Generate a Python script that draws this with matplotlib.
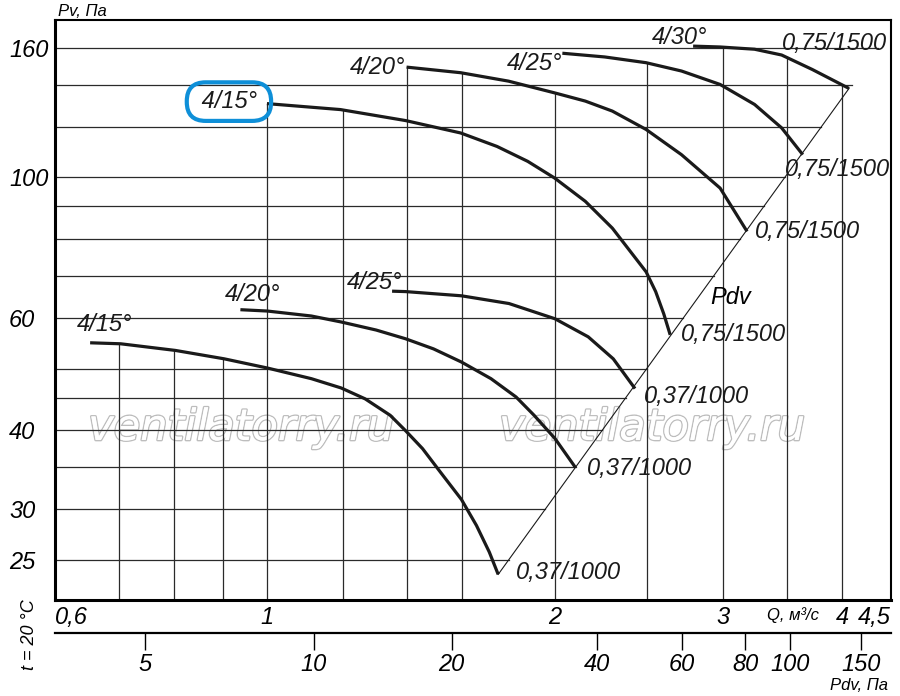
import numpy as np
import matplotlib
matplotlib.use('Agg')
import matplotlib.pyplot as plt
import matplotlib.patheffects as pe
from matplotlib.ticker import NullLocator
from matplotlib.transforms import blended_transform_factory

plt.rcParams['font.family'] = ['Liberation Sans', 'DejaVu Sans']
plt.rcParams['font.style'] = 'italic'

# axes ticks / grid
q_ticks = [0.6, 1, 2, 3, 4, 4.5]
q_tick_labels = ['0,6', '1', '2', '3', '4', '4,5']
q_grid = [0.7, 0.8, 0.9, 1.0, 1.2, 1.4, 1.6, 2.0, 2.5, 3.0, 3.5, 4.0]
pv_ticks = [25, 30, 40, 60, 100, 160]
pv_grid = [25, 30, 35, 40, 45, 50, 60, 70, 80, 90, 100, 120, 140, 160]
pdv_ticks = [5, 10, 20, 40, 60, 80, 100, 150]
pdv_q = [0.745, 1.119, 1.561, 2.218, 2.718, 3.166, 3.531, 4.184]

# 0,37/1000 curves
q_lo15 = [0.653, 0.703, 0.802, 0.902, 1.001, 1.113, 1.196, 1.267, 1.346, 1.397,
          1.455, 1.520, 1.598, 1.657, 1.709, 1.746]
p_lo15 = [54.9, 54.7, 53.4, 51.8, 50.1, 48.2, 46.6, 44.8, 42.2, 39.9,
          37.4, 34.3, 31.1, 28.3, 25.7, 23.7]
q_lo20 = [0.938, 1.001, 1.113, 1.196, 1.301, 1.397, 1.494, 1.598, 1.716, 1.823,
          1.904, 2.002, 2.104]
p_lo20 = [61.9, 61.6, 60.5, 59.2, 57.5, 55.7, 53.7, 51.2, 48.2, 45.1,
          42.2, 38.8, 34.9]
q_lo25 = [1.352, 1.397, 1.598, 1.792, 2.002, 2.169, 2.304, 2.428]
p_lo25 = [66.2, 66.1, 65.1, 63.3, 59.9, 56.1, 51.8, 46.5]

# 0,75/1500 curves
q_hi15 = [1.000, 1.194, 1.397, 1.595, 1.741, 1.875, 2.000, 2.154, 2.299, 2.494,
          2.552, 2.602, 2.643]
p_hi15 = [130.7, 127.9, 122.9, 117.5, 111.9, 106.0, 99.8, 91.7, 83.2, 71.0,
          66.1, 61.0, 56.5]
q_hi20 = [1.400, 1.595, 1.790, 2.000, 2.154, 2.299, 2.494, 2.716, 2.981, 3.181]
p_hi20 = [149.2, 146.2, 141.8, 135.9, 131.9, 127.2, 119.0, 108.6, 96.2, 82.2]
q_hi25 = [2.038, 2.257, 2.494, 2.716, 2.981, 3.239, 3.457, 3.638]
p_hi25 = [156.9, 154.8, 151.6, 147.1, 140.1, 130.3, 119.7, 108.6]
q_hi30 = [2.793, 2.981, 3.239, 3.457, 3.723, 4.067]
p_hi30 = [161.0, 160.5, 159.2, 155.9, 147.9, 138.1]

# (q, pv, start label, offset, end label, offset, highlighted)
curves = [
    (q_lo15, p_lo15, '4/15°', (14, 18), '0,37/1000', (18, 2), False),
    (q_lo20, p_lo20, '4/20°', (12, 15), '0,37/1000', (11, -1), False),
    (q_lo25, p_lo25, '4/25°', (-17, 9), '0,37/1000', (9, -8), False),
    (q_hi15, p_hi15, '4/15°', (-38, 2), '0,75/1500', (11, 0), True),
    (q_hi20, p_hi20, '4/20°', (-29, 0), '0,75/1500', (8, 0), False),
    (q_hi25, p_hi25, '4/25°', (-28, -10), '0,75/1500', (-18, -15), False),
    (q_hi30, p_hi30, '4/30°', (-14, 9), '0,75/1500', (-67, 45), False),
]

fig = plt.figure(figsize=(9, 6.96), dpi=100)
ax = fig.add_axes([55 / 900, 96 / 696, 836 / 900, 580 / 696])
ax.set_xscale('log')
ax.set_yscale('log')
ax.set_xlim(0.6, 4.5)
ax.set_ylim(21.6, 177)

grid_kw = dict(color='#2a2a2a', lw=0.9, zorder=1)
fs = 17


def log_interp(x, xs, ys):
    return np.exp(np.interp(np.log(x), np.log(xs), np.log(ys)))


# vertical grid goes up to the upper envelope of the curves
for q in q_grid:
    tops = [log_interp(q, c[0], c[1]) for c in curves if c[0][0] <= q <= c[0][-1]]
    top = max(tops) if tops else 177
    ax.plot([q, q], [21.6, top], **grid_kw)

# Pdv diagonal through curve ends; horizontal grid stops at it
d_q = [q_lo15[-1], q_hi30[-1]]
d_p = [p_lo15[-1], p_hi30[-1]]
slope = np.log(d_q[1] / d_q[0]) / np.log(d_p[1] / d_p[0])
for p in pv_grid:
    right = min(4.5, d_q[0] * (p / d_p[0]) ** slope)
    ax.plot([0.6, right], [p, p], **grid_kw)
ax.plot(d_q, d_p, color='#1a1a1a', lw=0.8, zorder=2)

for cq, cp, start_lab, s_off, end_lab, e_off, marked in curves:
    ax.plot(cq, cp, color='#1a1a1a', lw=2.3, zorder=3, solid_capstyle='butt',
            solid_joinstyle='round')
    if marked:
        # blue rounded frame around this label
        ax.annotate(' ' + start_lab + ' ', (cq[0], cp[0]), xytext=s_off,
                    textcoords='offset pixels', ha='center', va='center',
                    fontsize=fs, color='#1a1a1a', zorder=4,
                    bbox=dict(boxstyle='round,pad=0.33,rounding_size=0.8', fc='none',
                              ec='#0e8fd8', lw=3))
    else:
        ax.annotate(start_lab, (cq[0], cp[0]), xytext=s_off, textcoords='offset pixels',
                    ha='center', va='center', fontsize=fs, color='#1a1a1a', zorder=4)
    ax.annotate(end_lab, (cq[-1], cp[-1]), xytext=e_off, textcoords='offset pixels',
                ha='left', va='center', fontsize=fs, color='#1a1a1a', zorder=4)

ax.text(3.06, 64.6, 'Pdv', fontsize=fs, ha='center', va='center', zorder=4)

# watermark
for xw in [0.2225, 0.714]:
    ax.text(xw, 0.2966, 'ventilatorry.ru', transform=ax.transAxes, fontsize=31,
            family='DejaVu Sans', color='white', ha='center', va='center', zorder=0.5,
            path_effects=[pe.withStroke(linewidth=2.0, foreground='#bdbdbd'), pe.Normal()])

for side in ['top', 'right']:
    ax.spines[side].set_linewidth(1.5)
for side in ['left', 'bottom']:
    ax.spines[side].set_linewidth(2.2)

ax.set_xticks(q_ticks, labels=q_tick_labels)
ax.set_yticks(pv_ticks, labels=[str(v) for v in pv_ticks])
ax.xaxis.set_minor_locator(NullLocator())
ax.yaxis.set_minor_locator(NullLocator())
ax.tick_params(axis='both', length=0, labelsize=fs)
ax.tick_params(axis='x', pad=4)
ax.tick_params(axis='y', pad=33)
for lab in ax.get_yticklabels():
    lab.set_ha('left')
xl = ax.get_xticklabels()
xl[0].set_ha('left')
xl[-1].set_ha('right')

# Pdv scale
sec = ax.secondary_xaxis(-0.057)
sec.set_xticks(pdv_q, labels=[str(v) for v in pdv_ticks])
sec.xaxis.set_minor_locator(NullLocator())
sec.spines['bottom'].set_linewidth(1.6)
sec.tick_params(direction='out', length=12, width=1, labelsize=fs, pad=2)

tr = blended_transform_factory(ax.transData, ax.transAxes)
ax.text(3.55, -0.026, 'Q, м³/с', transform=tr, fontsize=12, ha='center', va='center')
fig.text(888 / 900, 1 - 685 / 696, 'Pdv, Па', fontsize=12, ha='right', va='center')
fig.text(58 / 900, 1 - 11 / 696, 'Pv, Па', fontsize=12, ha='left', va='center')
fig.text(30 / 900, 1 - 635 / 696, 't = 20 °C', fontsize=13, rotation=90,
         ha='center', va='center')

fig.savefig('out.png', dpi=100)
